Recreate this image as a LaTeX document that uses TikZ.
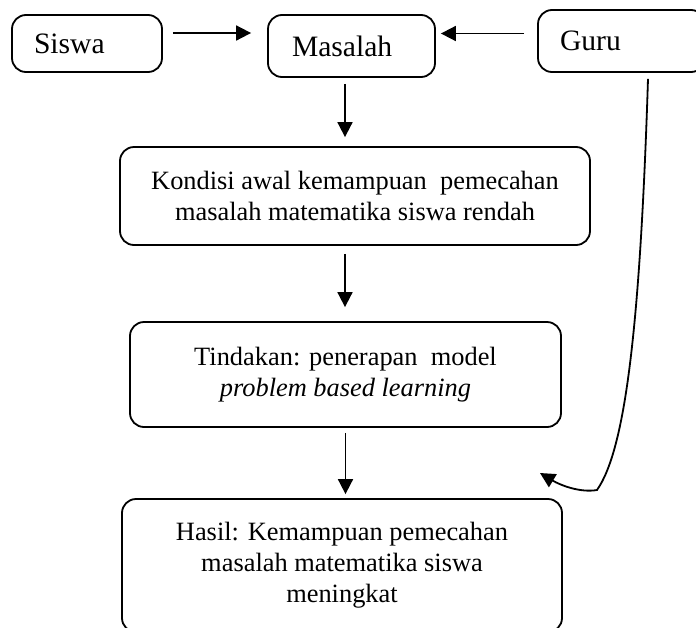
\documentclass[tikz,border=0pt]{standalone}
\usepackage{fontspec}
\setmainfont{Liberation Serif}
\usetikzlibrary{arrows.meta}
\usetikzlibrary{calc}

\begin{document}
\begin{tikzpicture}[x=0.5pt,y=-0.5pt,
        kotak/.style={draw, line width=0.9pt, rounded corners=7pt, inner sep=0pt},
        kotakkiri/.style={kotak, align=left, inner xsep=11pt, font=\fontsize{14.8}{15.5}\selectfont},
        kotaktengah/.style={kotak, align=center, font=\fontsize{13.2}{15.5}\selectfont},
        panah/.style={line width=0.9pt, -{Triangle[length=7.5pt,width=7.5pt]}}]
        \useasboundingbox (0,0) rectangle (696,627);
        \clip (0,0) rectangle (696,627);
        \node[kotakkiri, text width=53pt, minimum height=28.5pt] (siswa) at (87,43.5){Siswa};
        \node[kotakkiri, inner xsep=12pt, text width=59.5pt, minimum height=31pt] (masalah) at (351.5,46){Masalah};
        \node[kotakkiri, text width=61.5pt, minimum height=31pt] (guru) at (621.5,41){Guru};
        \node[kotaktengah, minimum width=235pt, minimum height=49pt] (kondisi) at (355,196){Kondisi awal kemampuan~ pemecahan\\masalah matematika siswa rendah};
        \node[kotaktengah, minimum width=215.5pt, minimum height=52.5pt] (tindakan) at (345.5,374.5){Tindakan: penerapan~ model\\\textit{problem based learning}};
        \node[kotaktengah, minimum width=220pt, minimum height=66.5pt] (hasil) at (342,565.5){Hasil: Kemampuan pemecahan\\masalah matematika siswa\\meningkat};
        \coordinate (ujung) at (540,473);
        \draw[panah] ($(siswa.east)+(5pt,5.25pt)$) -- ($(siswa.east -| masalah.west)+(-8pt,5.25pt)$);
        \draw[panah] ($(guru.west)+(-6.5pt,3.75pt)$) -- ($(guru.west -| masalah.east)+(2.5pt,3.75pt)$);
        \draw[panah] ($(masalah.south)+(-3.25pt,-3pt)$) -- ($(masalah.south |- kondisi.north)+(-3.25pt,4.5pt)$);
        \draw[panah] ($(kondisi.south)+(-5pt,-4pt)$) -- ($(kondisi.south |- tindakan.north)+(-5pt,7pt)$);
        \draw[panah] ($(tindakan.south)+(0,-2.5pt)$) -- ($(tindakan.south |- hasil.north)+(0,2pt)$);
        \draw[panah] ($(guru.south)+(13.25pt,-3pt)$) .. controls (640,330) and (625,450) .. (597,490) .. controls (580,493) and (560,485) .. (ujung);
    \end{tikzpicture}
\end{document}
